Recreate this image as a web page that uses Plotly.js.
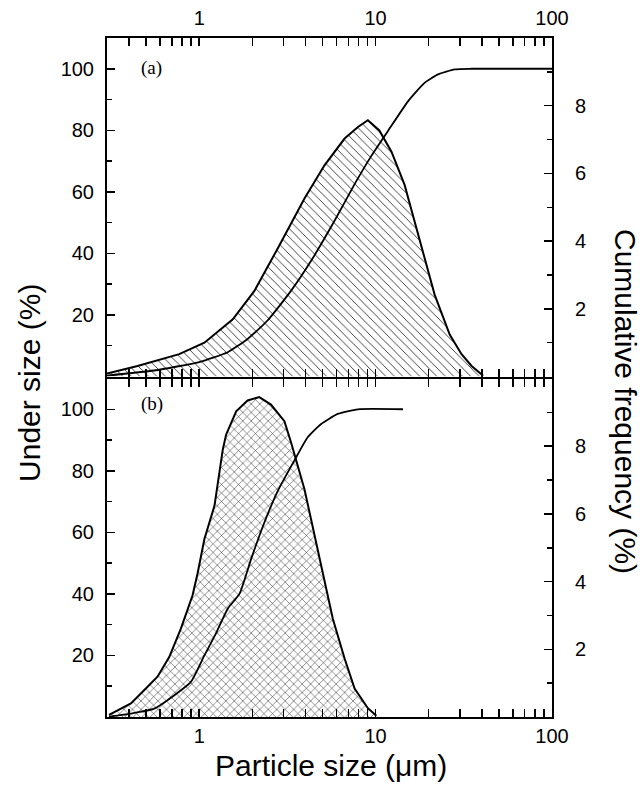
<!DOCTYPE html>
<html>
<head>
<meta charset="utf-8">
<script src="https://cdn.plot.ly/plotly-3.0.1.min.js"></script>
<style>html,body{margin:0;padding:0;background:#fff;}#chart{width:644px;height:786px;}</style>
</head>
<body>
<div id="chart"></div>
<script>
// ---- data ----
// Panel (a): frequency distribution (right axis) and cumulative under size (left axis)
var sizeA_freq = [0.3, 0.447, 0.77, 1.07, 1.55, 2.05, 2.79, 3.95, 5.13, 6.67, 7.94, 9.04, 10.5, 12.3, 14.6, 17.4, 21.6, 26.3, 30.7, 35, 40.7];
var freqA      = [0.09, 0.31, 0.66, 1.0, 1.69, 2.52, 3.79, 5.26, 6.24, 7.03, 7.37, 7.57, 7.27, 6.64, 5.66, 4.19, 2.42, 1.24, 0.66, 0.31, 0.02];
var sizeA_cum  = [0.3, 0.555, 1.0, 1.45, 1.88, 2.44, 3.32, 4.31, 5.85, 7.6, 9.46, 11.75, 15.3, 19, 22.6, 28.1, 35, 100];
var cumA       = [0.3, 1.95, 4.7, 7.9, 12.2, 18.2, 27.9, 37.6, 50.6, 62.5, 71.7, 79.8, 89.5, 95.5, 98.2, 99.8, 100, 100];

// Panel (b)
var sizeB_freq = [0.308, 0.41, 0.487, 0.58, 0.676, 0.787, 0.916, 0.978, 1.07, 1.22, 1.36, 1.42, 1.62, 1.88, 2.19, 2.55, 3.04, 3.32, 3.95, 4.7, 5.72, 6.67, 7.6, 9.04, 10.1];
var freqB      = [0.06, 0.4, 0.79, 1.19, 1.77, 2.61, 3.59, 4.23, 5.26, 6.24, 7.9, 8.34, 9.03, 9.35, 9.45, 9.23, 8.74, 8.1, 6.73, 4.96, 2.9, 1.73, 0.84, 0.26, 0.04];
var sizeB_cum  = [0.308, 0.41, 0.555, 0.72, 0.897, 1.07, 1.24, 1.45, 1.69, 1.97, 2.34, 2.79, 3.46, 4.12, 4.91, 6.1, 7.94, 14.3];
var cumB       = [0.1, 1.1, 2.7, 7.0, 11.4, 20.0, 27, 35.2, 40, 51.4, 63.2, 73.5, 83.3, 90.9, 95.2, 98.5, 100, 100];

// ticks
var xMajor = [1, 10, 100];
var xMajorText = ['1', '10', '100'];
var xMinor = [0.3, 0.4, 0.5, 0.6, 0.7, 0.8, 0.9, 2, 3, 4, 5, 6, 7, 8, 9, 20, 30, 40, 50, 60, 70, 80, 90];
var leftMajor = [20, 40, 60, 80, 100];
var leftMinor = [10, 30, 50, 70, 90];
var rightMajor = [2, 4, 6, 8];
var rightMinor = [1, 3, 5, 7, 9];

var panelLabels = ['(a)', '(b)'];
var xTitle = 'Particle size (\u03bcm)';
var yLeftTitle = 'Under size (%)';
var yRightTitle = 'Cumulative frequency (%)';

// ---- plot ----
var tickFont = {family: 'Liberation Sans, Arial, sans-serif', size: 20, color: '#000'};
var titleFont = {family: 'Liberation Sans, Arial, sans-serif', size: 30, color: '#000'};
var gap = 1 / 679;

function xAxis(anchor, side, standoff) {
  return {
    type: 'log', range: [Math.log10(0.3), 2], domain: [0, 1], anchor: anchor, side: side,
    showline: true, linecolor: '#000', linewidth: 2, mirror: 'allticks',
    ticks: 'inside', ticklen: 8, tickwidth: 1.5, tickcolor: '#000',
    tickmode: 'array', tickvals: xMajor, ticktext: xMajorText,
    minor: {tickmode: 'array', tickvals: xMinor, ticks: 'inside', ticklen: 5, tickwidth: 1.5, tickcolor: '#000', showgrid: false},
    showgrid: false, zeroline: false, tickfont: tickFont, ticklabelstandoff: standoff
  };
}
function leftAxis(dom, anchor, overlay) {
  return {
    domain: dom, range: [0, 110], anchor: anchor, side: 'left', overlaying: overlay,
    showline: true, linecolor: '#000', linewidth: 2,
    ticks: 'inside', ticklen: 8, tickwidth: 1.5, tickcolor: '#000',
    tickmode: 'array', tickvals: leftMajor,
    minor: {tickmode: 'array', tickvals: leftMinor, ticks: 'inside', ticklen: 5, tickwidth: 1.5, tickcolor: '#000', showgrid: false},
    showgrid: false, zeroline: false, tickfont: tickFont, ticklabelstandoff: 7
  };
}
function rightAxis(dom, anchor) {
  return {
    domain: dom, range: [0, 10], anchor: anchor, side: 'right',
    showline: true, linecolor: '#000', linewidth: 2,
    ticks: 'inside', ticklen: 8, tickwidth: 1.5, tickcolor: '#000',
    tickmode: 'array', tickvals: rightMajor,
    minor: {tickmode: 'array', tickvals: rightMinor, ticks: 'inside', ticklen: 5, tickwidth: 1.5, tickcolor: '#000', showgrid: false},
    showgrid: false, zeroline: false, tickfont: tickFont, ticklabelstandoff: 17
  };
}

var traces = [
  // panel (b): base axis y (right, frequency), overlay y2 (left, cumulative)
  {x: sizeB_freq, y: freqB, xaxis: 'x', yaxis: 'y', type: 'scatter', mode: 'lines',
   line: {color: '#000', width: 2}, fill: 'tozeroy', fillcolor: 'rgba(0,0,0,0)',
   fillpattern: {shape: 'x', size: 6, solidity: 0.16, fgcolor: '#222', bgcolor: 'rgba(0,0,0,0)'}, showlegend: false},
  {x: sizeB_cum, y: cumB, xaxis: 'x', yaxis: 'y2', type: 'scatter', mode: 'lines',
   line: {color: '#000', width: 1.8, shape: 'spline', smoothing: 0.5}, showlegend: false},
  // panel (a): base axis y3 (right, frequency), overlay y4 (left, cumulative)
  {x: sizeA_freq, y: freqA, xaxis: 'x2', yaxis: 'y3', type: 'scatter', mode: 'lines',
   line: {color: '#000', width: 2}, fill: 'tozeroy', fillcolor: 'rgba(0,0,0,0)',
   fillpattern: {shape: '\\', size: 6, solidity: 0.14, fgcolor: '#222', bgcolor: 'rgba(0,0,0,0)'}, showlegend: false},
  {x: sizeA_cum, y: cumA, xaxis: 'x2', yaxis: 'y4', type: 'scatter', mode: 'lines',
   line: {color: '#000', width: 1.8, shape: 'spline', smoothing: 0.5}, showlegend: false}
];

var annFont = {family: 'Liberation Serif, Times New Roman, serif', size: 19, color: '#000'};
var layout = {
  width: 644, height: 786,
  margin: {l: 107, r: 92, t: 38, b: 69, pad: 0},
  paper_bgcolor: '#fff', plot_bgcolor: '#fff',
  showlegend: false,
  xaxis: xAxis('y', 'bottom', 0),
  xaxis2: xAxis('y3', 'top', 3),
  yaxis: rightAxis([0, 0.5 - gap], 'x'),
  yaxis2: leftAxis([0, 0.5 - gap], 'x', 'y'),
  yaxis3: rightAxis([0.5 + gap, 1], 'x2'),
  yaxis4: leftAxis([0.5 + gap, 1], 'x2', 'y3'),
  annotations: [
    {text: panelLabels[0], xref: 'paper', yref: 'paper', x: 0.101, y: 0.956, xanchor: 'center', yanchor: 'middle', showarrow: false, font: annFont},
    {text: panelLabels[1], xref: 'paper', yref: 'paper', x: 0.101, y: 0.461, xanchor: 'center', yanchor: 'middle', showarrow: false, font: annFont},
    {text: xTitle, xref: 'paper', yref: 'paper', x: 0.503, y: -0.071, xanchor: 'center', yanchor: 'middle', showarrow: false, font: titleFont},
    {text: yLeftTitle, xref: 'paper', yref: 'paper', x: -0.173, y: 0.492, xanchor: 'center', yanchor: 'middle', showarrow: false, textangle: -90, font: titleFont},
    {text: yRightTitle, xref: 'paper', yref: 'paper', x: 1.164, y: 0.464, xanchor: 'center', yanchor: 'middle', showarrow: false, textangle: 90, font: titleFont}
  ]
};

Plotly.newPlot('chart', traces, layout, {staticPlot: true, displayModeBar: false});
</script>
</body>
</html>
